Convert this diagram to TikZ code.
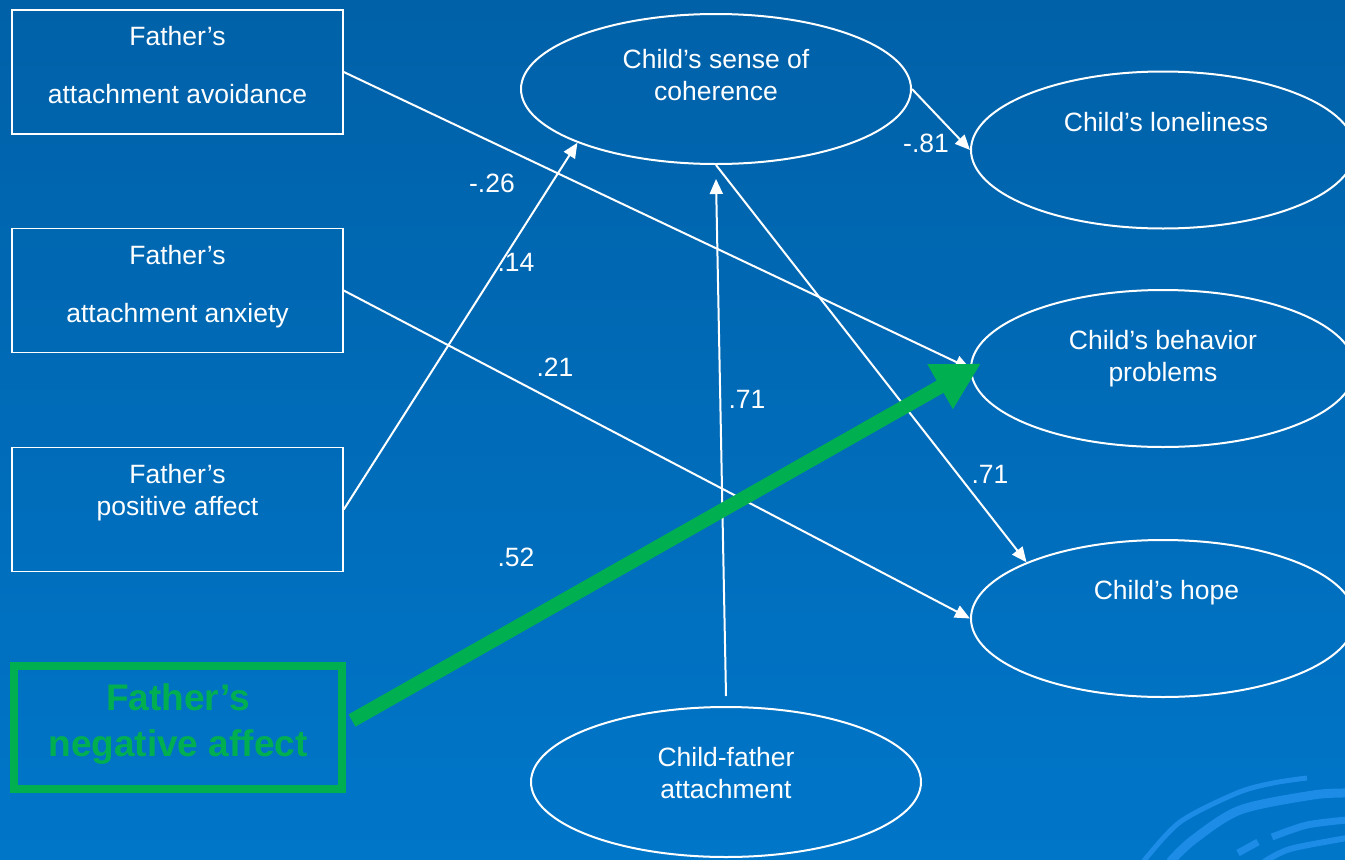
\documentclass[tikz,border=0pt]{standalone}
\usepackage{fontspec}
\setmainfont{Liberation Sans}
\usetikzlibrary{arrows.meta,shapes.geometric}
\definecolor{bgtop}{RGB}{0,97,168}
\definecolor{bgbot}{RGB}{0,118,201}
\definecolor{swirl}{RGB}{28,140,230}
\definecolor{negg}{RGB}{0,176,80}

\begin{document}
\begin{tikzpicture}[x=1pt,y=-1pt,font=\fontsize{26.5}{32}\selectfont]
\useasboundingbox (0,0) rectangle (1345,860);
\clip (0,0) rectangle (1345,860);
\shade[top color=bgtop,bottom color=bgbot] (0,0) rectangle (1345,860);

\begin{scope}[draw=swirl,line cap=butt]
    \draw[line width=5pt] plot[smooth] coordinates {(1143,862) (1180,822) (1237,793) (1273,783) (1307,778)};
    \draw[line width=9pt] plot[smooth] coordinates {(1170,862) (1193,840) (1240,810) (1313,795) (1347,793)};
    \draw[line width=7pt] (1238,853) -- (1258,842);
    \draw[line width=7pt] plot[smooth] coordinates {(1272,837) (1307,825) (1347,820)};
    \draw[line width=6pt] plot[smooth] coordinates {(1264,862) (1290,849) (1347,838)};
\end{scope}

\begin{scope}[every node/.style={draw=white,line width=1.5pt,text=white,align=center,
              minimum width=331pt,minimum height=124pt}]
    \node[text depth=14pt] (avoid) at (177.5,72) {Father's\\[26pt]attachment avoidance};
    \node[text depth=13pt] (anx) at (177.5,290.5) {Father's\\[26pt]attachment anxiety};
    \node[text depth=39pt] (pos) at (177.5,509.5) {Father's\\positive affect};
\end{scope}

\begin{scope}[every node/.style={ellipse,draw=white,line width=2pt,text=white,align=center,
              inner sep=0pt,minimum width=384pt,minimum height=157pt}]
    \node[text depth=28pt,minimum width=390pt,minimum height=150pt] (coh) at (716,89) {Child's sense of\\coherence};
    \node[text depth=56pt] (lone) at (1163,150) {\hspace*{6pt}Child's loneliness};
    \node[text depth=25pt] (behav) at (1163,368.5) {Child's behavior\\problems};
    \node[text depth=57pt] (hope) at (1163,618.5) {\hspace*{7pt}Child's hope};
    \node[text depth=19pt,minimum width=390pt,minimum height=150pt] (att) at (726,782) {Child-father\\attachment};
\end{scope}

\begin{scope}[>={Triangle[length=15pt,width=13pt]},
              every edge/.style={draw=white,line width=2pt}]
    \path [->] (avoid.east) edge (behav.west);
    \path [->] (anx.east) edge (hope.west);
    \path [->] (pos.east) edge (coh.south west);
    \path [->] ([yshift=10pt]att.north) edge ([yshift=-14pt]coh.south);
    \path [->] (coh.east) edge (lone.west);
    \path [->] (coh.south) edge (hope.north west);
\end{scope}

\begin{scope}[every node/.style={text=white}]
    \node (wavoid) at (492,183) {-.26};
    \node (wpos) at (516,262) {.14};
    \node (wanx) at (555,367) {.21};
    \node (watt) at (747,399) {.71};
    \node (wlone) at (926,143) {-.81};
    \node (whope) at (990,474) {.71};
    \node (wneg) at (516,557) {.52};
\end{scope}

\node[draw=negg,line width=8pt,text=negg,align=center,minimum width=328pt,minimum height=123pt,
      text depth=14pt,font=\bfseries\fontsize{37}{46}\selectfont] (neg) at (178,727.5) {Father's\\negative affect};
\draw[negg,line width=14pt,-{Triangle[length=47pt,width=48pt]}]
    ([xshift=6pt,yshift=7pt]neg.east) -- ([xshift=11pt,yshift=5pt]behav.west);
\end{tikzpicture}
\end{document}
